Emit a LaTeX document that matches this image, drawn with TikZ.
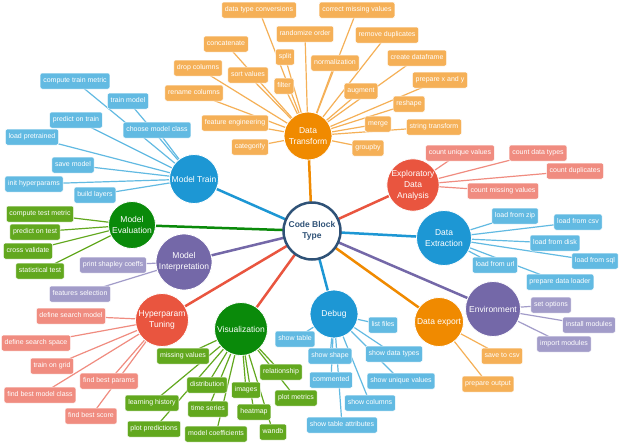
\documentclass[tikz,border=0pt]{standalone}
\usepackage{fontspec}
\setmainfont{Liberation Sans}
\usetikzlibrary{backgrounds}
\definecolor{mO}{HTML}{F08A00}
\definecolor{lO}{HTML}{F5B057}
\definecolor{mB}{HTML}{1D97D4}
\definecolor{lB}{HTML}{62BAE2}
\definecolor{mG}{HTML}{0A8A0A}
\definecolor{lG}{HTML}{62A81E}
\definecolor{mP}{HTML}{7468A8}
\definecolor{lP}{HTML}{A29CC9}
\definecolor{mR}{HTML}{E9553F}
\definecolor{lR}{HTML}{F08C80}
\definecolor{hubc}{HTML}{2F5277}
\tikzset{
  leaf/.style={rounded corners=2pt, draw=white, line width=0.5pt, text=white,
    font=\fontsize{7}{8}\selectfont, inner xsep=3.2pt, inner ysep=0pt,
    minimum height=16pt, text height=5.3pt, text depth=1.4pt},
  leafO/.style={leaf, fill=lO}, leafB/.style={leaf, fill=lB},
  leafG/.style={leaf, fill=lG}, leafP/.style={leaf, fill=lP},
  leafR/.style={leaf, fill=lR},
  main/.style={circle, draw=white, line width=0.8pt, text=white, align=center,
    inner sep=0pt, font=\fontsize{8.5}{11}\selectfont},
  hub/.style={circle, draw=hubc, line width=2.5pt, fill=white, text=hubc, align=center,
    inner sep=0pt, minimum size=57pt, font=\bfseries\fontsize{8.5}{11}\selectfont},
  spoke/.style={line width=2.5pt},
  twig/.style={line width=1.2pt},
}
\begin{document}
\begin{tikzpicture}[x=1pt,y=-1pt]
\useasboundingbox (0,0) rectangle (620,442);
% hub and main nodes
\node[hub] (hub) at (312,231) {Code Block\\Type};
\node[main, fill=mO, minimum size=48pt] (dt) at (308,136) {Data\\Transform};
\node[main, fill=mB, minimum size=49pt] (mt) at (194,179) {Model Train};
\node[main, fill=mG, minimum size=47pt] (me) at (132,225) {Model\\Evaluation};
\node[main, fill=mP, minimum size=56pt] (mi) at (184,262) {Model\\Interpretation};
\node[main, fill=mR, minimum size=53pt] (hp) at (162,320) {Hyperparam\\Tuning};
\node[main, fill=mG, minimum size=53pt] (vi) at (241,329) {Visualization};
\node[main, fill=mB, minimum size=48pt] (db) at (334,314) {Debug};
\node[main, fill=mO, minimum size=49pt] (de) at (439,322) {Data export};
\node[main, fill=mP, minimum size=55pt] (en) at (493,309) {Environment};
\node[main, fill=mB, minimum size=55pt] (dx) at (444,238) {Data\\Extraction};
\node[main, fill=mR, minimum size=52pt] (ed) at (413,185) {Exploratory\\Data\\Analysis};
% Data Transform leaves
\node[leafO] (t1) at (259,10) {data type conversions};
\node[leafO] (t2) at (357,10) {correct missing values};
\node[leafO] (t3) at (305,34) {randomize order};
\node[leafO] (t4) at (387,35) {remove duplicates};
\node[leafO] (t5) at (226,44) {concatenate};
\node[leafO] (t6) at (285,57) {split};
\node[leafO] (t7) at (335,63) {normalization};
\node[leafO] (t8) at (417,58) {create dataframe};
\node[leafO] (t9) at (198,68) {drop columns};
\node[leafO] (t10) at (248,75) {sort values};
\node[leafO] (t11) at (284,86) {filter};
\node[leafO] (t12) at (440,80) {prepare x and y};
\node[leafO] (t13) at (194,93) {rename columns};
\node[leafO] (t14) at (361,91) {augment};
\node[leafO] (t15) at (409,104) {reshape};
\node[leafO] (t16) at (235,123) {feature engineering};
\node[leafO] (t17) at (378,124) {merge};
\node[leafO] (t18) at (434,127) {string transform};
\node[leafO] (t19) at (250,147) {categorify};
\node[leafO] (t20) at (368,148) {groupby};
% Model Train leaves
\node[leafB] (a1) at (75,81) {compute train metric};
\node[leafB] (a2) at (128,101) {train model};
\node[leafB] (a3) at (76,120) {predict on train};
\node[leafB] (a4) at (157,130) {choose model class};
\node[leafB] (a5) at (32,137) {load pretrained};
\node[leafB] (a6) at (73,165) {save model};
\node[leafB] (a7) at (34,184) {init hyperparams};
\node[leafB] (a8) at (95,195) {build layers};
% Model Evaluation leaves
\node[leafG] (b1) at (40,214) {compute test metric};
\node[leafG] (b2) at (35,232) {predict on test};
\node[leafG] (b3) at (28,251) {cross validate};
\node[leafG] (b4) at (40,271) {statistical test};
% Model Interpretation leaves
\node[leafP] (c1) at (113,265) {print shapley coeffs};
\node[leafP] (c2) at (80,294) {features selection};
% Hyperparam leaves
\node[leafR] (h1) at (71,316) {define search model};
\node[leafR] (h2) at (36,343) {define search space};
\node[leafR] (h3) at (52,366) {train on grid};
\node[leafR] (h4) at (109,381) {find best params};
\node[leafR] (h5) at (40,395) {find best model class};
\node[leafR] (h6) at (91,416) {find best score};
% Visualization leaves
\node[leafG] (v1) at (183,356) {missing values};
\node[leafG] (v2) at (207,385) {distribution};
\node[leafG] (v3) at (152,403) {learning history};
\node[leafG] (v4) at (154,429) {plot predictions};
\node[leafG] (v5) at (208,409) {time series};
\node[leafG] (v6) at (216,434) {model coefficients};
\node[leafG] (v7) at (246,390) {images};
\node[leafG] (v8) at (254,412) {heatmap};
\node[leafG] (v9) at (281,372) {relationship};
\node[leafG] (v10) at (296,398) {plot metrics};
\node[leafG] (v11) at (273,432) {wandb};
% Debug leaves
\node[leafB] (d1) at (295,339) {show table};
\node[leafB] (d2) at (383,325) {list files};
\node[leafB] (d3) at (330,356) {show shape};
\node[leafB] (d4) at (394,354) {show data types};
\node[leafB] (d5) at (331,380) {commented};
\node[leafB] (d6) at (401,381) {show unique values};
\node[leafB] (d7) at (370,403) {show columns};
\node[leafB] (d8) at (342,425) {show table attributes};
% Data export leaves
\node[leafO] (e1) at (502,356) {save to csv};
\node[leafO] (e2) at (488,384) {prepare output};
% Environment leaves
\node[leafP] (n1) at (551,305) {set options};
\node[leafP] (n2) at (589,325) {install modules};
\node[leafP] (n3) at (564,344) {import modules};
% Data Extraction leaves
\node[leafB] (x1) at (515,216) {load from zip};
\node[leafB] (x2) at (578,222) {load from csv};
\node[leafB] (x3) at (555,243) {load from disk};
\node[leafB] (x4) at (595,261) {load from sql};
\node[leafB] (x5) at (495,265) {load from url};
\node[leafB] (x6) at (560,282) {prepare data loader};
% EDA leaves
\node[leafR] (r1) at (460,153) {count unique values};
\node[leafR] (r2) at (538,153) {count data types};
\node[leafR] (r3) at (575,171) {count duplicates};
\node[leafR] (r4) at (503,191) {count missing values};
% connectors
\begin{scope}[on background layer]
\fill[white] (0,0) rectangle (620,442);
\foreach \i in {1,...,20} \draw[twig, lO] (t\i.center) -- (dt.center);
\foreach \i in {1,...,8} \draw[twig, lB] (a\i.center) -- (mt.center);
\foreach \i in {1,...,4} \draw[twig, lG] (b\i.center) -- (me.center);
\foreach \i in {1,2} \draw[twig, lP] (c\i.center) -- (mi.center);
\foreach \i in {1,...,6} \draw[twig, lR] (h\i.center) -- (hp.center);
\foreach \i in {1,...,11} \draw[twig, lG] (v\i.center) -- (vi.center);
\foreach \i in {1,...,8} \draw[twig, lB] (d\i.center) -- (db.center);
\foreach \i in {1,2} \draw[twig, lO] (e\i.center) -- (de.center);
\foreach \i in {1,2,3} \draw[twig, lP] (n\i.center) -- (en.center);
\foreach \i in {1,...,6} \draw[twig, lB] (x\i.center) -- (dx.center);
\foreach \i in {1,...,4} \draw[twig, lR] (r\i.center) -- (ed.center);
\draw[spoke, mO] (hub.center) -- (dt.center);
\draw[spoke, mB] (hub.center) -- (mt.center);
\draw[spoke, mG] (hub.center) -- (me.center);
\draw[spoke, mP] (hub.center) -- (mi.center);
\draw[spoke, mR] (hub.center) -- (hp.center);
\draw[spoke, mR] (hub.center) -- (vi.center);
\draw[spoke, mB] (hub.center) -- (db.center);
\draw[spoke, mO] (hub.center) -- (de.center);
\draw[spoke, mP] (hub.center) -- (en.center);
\draw[spoke, mB] (hub.center) -- (dx.center);
\draw[spoke, mR] (hub.center) -- (ed.center);
\end{scope}
\end{tikzpicture}
\end{document}
